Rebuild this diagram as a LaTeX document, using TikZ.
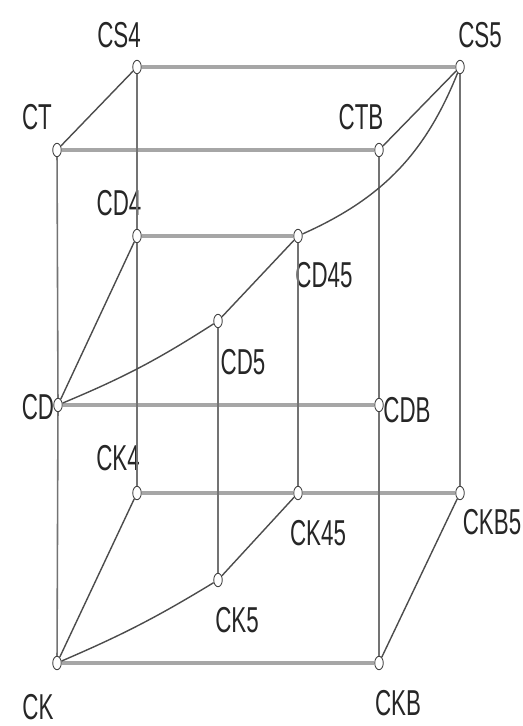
\documentclass[tikz,border=0pt]{standalone}
\usepackage{fontspec}
\newfontfamily\labelfont[FakeStretch=0.62]{Liberation Sans}
\usepackage{tikz}
\usetikzlibrary{shapes.geometric}

\begin{document}
\begin{tikzpicture}[x=0.02cm,y=-0.02cm,
    pt/.style={ellipse,draw=black!75,fill=white,line width=0.5pt,minimum width=0.17cm,minimum height=0.27cm,inner sep=0pt},
    lbl/.style={font=\labelfont\fontsize{20.5}{22}\selectfont,text=black!85,inner sep=0pt},
    hedge/.style={line width=2.6pt,draw=black!35},
    vedge/.style={line width=0.9pt,draw=black!55},
    dedge/.style={line width=0.8pt,draw=black!70}]
\useasboundingbox (0,0) rectangle (522,726);
% points of the cube
\foreach \name/\x/\y in {CS4/137/67,CS5/460/67,CT/57/150,CTB/379/150,CD4/137/236,CD45/298/236,CD5/218/321,
    CD/58/405,CDB/379/405,CK4/137/493,CK45/298/493,CKB5/460/493,CK5/218/580,CK/57/663,CKB/379/663} {
    \node[pt] (\name) at (\x,\y) {};
}
% labels
\foreach \name/\x/\y in {CS4/119/35,CS5/480/35,CT/37/117,CTB/361/117,CD4/119/203,CD45/324/275,CD5/243/362,
    CD/38/407,CDB/407/410,CK4/118/458,CK45/318/533,CKB5/492/522,CK5/237/620,CK/38/707,CKB/398/703} {
    \node[lbl] (l\name) at (\x,\y) {\name};
}
% horizontal edges
\foreach \a/\b in {CS4/CS5,CT/CTB,CD4/CD45,CD/CDB,CK4/CK45,CK45/CKB5,CK/CKB}
    \draw[hedge] (\a) -- (\b);
% vertical edges
\foreach \a/\b in {CS4/CD4,CD4/CK4,CT/CD,CD/CK,CTB/CDB,CDB/CKB,CS5/CKB5,CD5/CK5,CD45/CK45}
    \draw[vedge] (\a) -- (\b);
% slanted edges
\foreach \a/\b in {CT/CS4,CTB/CS5,CD/CD4,CD5/CD45,CK/CK4,CK5/CK45,CKB/CKB5}
    \draw[dedge] (\a) -- (\b);
\draw[dedge] (CD) to[bend right=5] (CD5);
\draw[dedge] (CK) to[bend right=4] (CK5);
\draw[dedge] (CD45) to[bend right=22] (CS5);
\end{tikzpicture}
\end{document}
